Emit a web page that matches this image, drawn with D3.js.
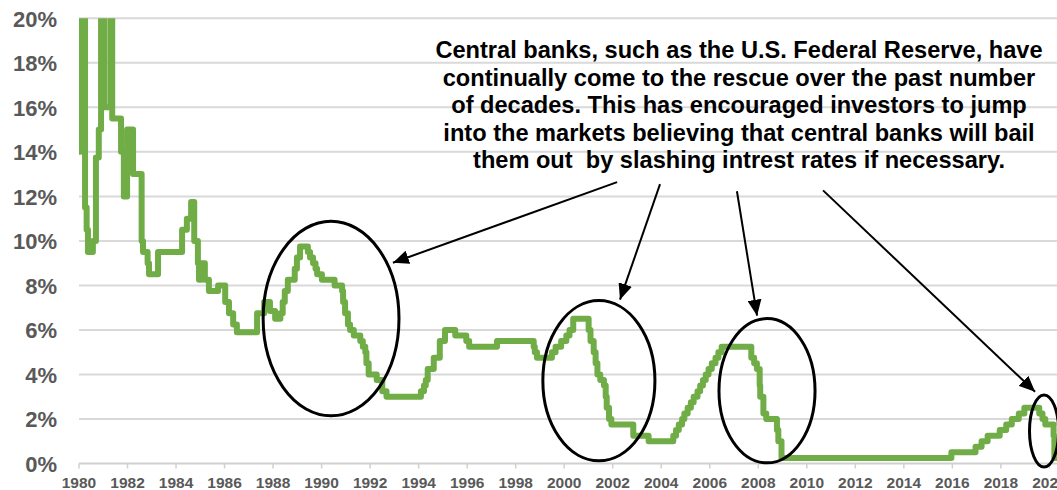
<!DOCTYPE html>
<html>
<head>
<meta charset="utf-8">
<script src="https://cdn.jsdelivr.net/npm/d3@7"></script>
<style>
  body{margin:0;background:#fff}
  svg{display:block;font-family:"Liberation Sans",Arial,sans-serif}
</style>
</head>
<body>
<div id="chart"></div>
<script>

// rate changes: [date, rate %]
const rateChanges=[
  ["1980-01-01",14],["1980-01-20",15],["1980-02-08",20.5],["1980-04-01",11.5],
  ["1980-04-25",10.5],["1980-05-15",9.5],["1980-07-28",10],["1980-09-12",13.75],
  ["1980-10-25",15],["1980-11-28",20.5],["1981-01-20",16],["1981-04-25",20.5],
  ["1981-05-15",15.5],["1981-09-25",14],["1981-11-06",12],["1981-12-25",15],
  ["1982-03-25",13],["1982-08-01",10],["1982-08-22",9.5],["1982-10-30",9],
  ["1982-11-20",8.5],["1983-04-05",9.5],["1984-04-01",10.5],["1984-06-12",11],
  ["1984-08-15",11.75],["1984-10-01",10],["1984-11-25",9],["1984-12-12",8.25],
  ["1985-01-10",9],["1985-03-10",8.25],["1985-05-10",7.75],["1985-09-25",8],
  ["1986-01-10",7.25],["1986-03-08",6.75],["1986-05-10",6.25],["1986-07-05",5.9],
  ["1987-05-05",6.75],["1987-08-20",7.25],["1987-11-15",6.85],["1988-02-01",6.5],
  ["1988-04-20",6.75],["1988-05-25",7.25],["1988-06-25",7.75],["1988-08-10",8.25],
  ["1988-11-22",8.75],["1988-12-25",9.25],["1989-02-10",9.75],["1989-06-08",9.5],
  ["1989-07-10",9.25],["1989-08-25",9],["1989-10-01",8.75],["1989-10-25",8.5],
  ["1990-01-05",8.25],["1990-07-15",8],["1990-11-05",7.75],["1990-11-20",7.25],
  ["1990-12-20",6.75],["1991-02-01",6.25],["1991-03-05",6],["1991-04-30",5.75],
  ["1991-08-06",5.5],["1991-09-13",5.25],["1991-10-20",5],["1991-11-06",4.5],
  ["1991-12-10",4],["1992-04-09",3.75],["1992-07-02",3.25],["1992-09-04",3],
  ["1994-02-04",3.25],["1994-03-22",3.5],["1994-04-18",3.75],["1994-05-17",4.25],
  ["1994-08-16",4.75],["1994-11-15",5.5],["1995-02-01",6],["1995-07-06",5.75],
  ["1995-12-19",5.5],["1996-01-31",5.25],["1997-03-25",5.5],["1998-09-29",5.25],
  ["1998-10-15",5],["1998-11-17",4.75],["1999-06-30",5],["1999-08-24",5.25],
  ["1999-11-16",5.5],["2000-02-02",5.75],["2000-03-21",6],["2000-05-16",6.5],
  ["2001-01-03",6],["2001-01-31",5.5],["2001-03-20",5],["2001-04-18",4.5],
  ["2001-05-15",4],["2001-06-27",3.75],["2001-08-21",3.5],["2001-09-17",3],
  ["2001-10-02",2.5],["2001-11-06",2],["2001-12-11",1.75],["2002-11-06",1.25],
  ["2003-06-25",1],["2004-06-30",1.25],["2004-08-10",1.5],["2004-09-21",1.75],
  ["2004-11-10",2],["2004-12-14",2.25],["2005-02-02",2.5],["2005-03-22",2.75],
  ["2005-05-03",3],["2005-06-30",3.25],["2005-08-09",3.5],["2005-09-20",3.75],
  ["2005-11-01",4],["2005-12-13",4.25],["2006-01-31",4.5],["2006-03-28",4.75],
  ["2006-05-10",5],["2006-06-29",5.25],["2007-09-18",4.75],["2007-10-31",4.5],
  ["2007-12-11",4.25],["2008-01-22",3.5],["2008-01-30",3],["2008-03-18",2.25],
  ["2008-04-30",2],["2008-10-08",1.5],["2008-10-29",1],["2008-12-16",0.25],
  ["2015-12-17",0.5],["2016-12-15",0.75],["2017-03-16",1],["2017-06-15",1.25],
  ["2017-12-14",1.5],["2018-03-22",1.75],["2018-06-14",2],["2018-09-27",2.25],
  ["2018-12-20",2.5],["2019-08-01",2.25],["2019-09-19",2],["2019-10-31",1.75],
  ["2020-03-04",1.25],["2020-03-16",0.25],["2020-04-30",0.25]
]

const yTicks=[0,2,4,6,8,10,12,14,16,18,20]
const xTickYears=d3.range(1980,2021,2)

const noteLines=[
  "Central banks, such as the U.S. Federal Reserve, have",
  "continually come to the rescue over the past number",
  "of decades. This has encouraged investors to jump",
  "into the markets believing that central banks will bail",
  "them out  by slashing intrest rates if necessary."
]

// ellipses in data units: [centre year, centre %, radius years, radius %]
const ellipses=[
  [1990.39,6.51,2.80,4.37],
  [2001.43,3.72,2.31,3.60],
  [2008.36,3.27,1.98,3.24],
  [2019.78,1.46,0.60,1.62]
]

// arrows: [from year, from %, to year, to %]
const arrows=[
  [2002.18,12.64,1992.94,9.02],
  [2003.95,12.55,2002.30,7.36],
  [2007.12,12.23,2007.95,6.64],
  [2010.67,12.27,2019.41,3.22]
]

const W=1057,H=490
const margin={top:18.3,left:79,bottom:26.5}
const parse=d3.timeParse('%Y-%m-%d')
const data=rateChanges.map(d=>({date:parse(d[0]),rate:d[1]}))

const x=d3.scaleTime()
  .domain([new Date(1980,0,1),new Date(2020,0,1)])
  .range([margin.left,1049.4])
const xYear=d3.scaleLinear().domain([1980,2020]).range(x.range())
const y=d3.scaleLinear().domain([0,20]).range([H-margin.bottom,margin.top])

const svg=d3.select('#chart').append('svg')
  .attr('width',W).attr('height',H)

// grid
svg.append('g').selectAll('line')
  .data(yTicks.filter(d=>d>0))
  .join('line')
  .attr('x1',margin.left).attr('x2',W)
  .attr('y1',d=>y(d)).attr('y2',d=>y(d))
  .attr('stroke','#d9d9d9').attr('stroke-width',2)

// x axis
const xAxis=svg.append('g')
xAxis.append('line')
  .attr('x1',margin.left).attr('x2',W)
  .attr('y1',y(0)).attr('y2',y(0))
  .attr('stroke','#d0d0d0').attr('stroke-width',2)
xAxis.selectAll('line.tick')
  .data(xTickYears)
  .join('line').attr('class','tick')
  .attr('x1',d=>xYear(d)).attr('x2',d=>xYear(d))
  .attr('y1',y(0)).attr('y2',y(0)+5)
  .attr('stroke','#d0d0d0').attr('stroke-width',1.5)
xAxis.selectAll('text')
  .data(xTickYears)
  .join('text')
  .attr('x',d=>xYear(d)).attr('y',488)
  .attr('text-anchor','middle')
  .attr('font-size','15.5px').attr('font-weight','bold')
  .attr('fill','#595959')
  .text(d=>d)

// y labels
svg.append('g').selectAll('text')
  .data(yTicks)
  .join('text')
  .attr('x',57).attr('y',d=>y(d)+8.5)
  .attr('text-anchor','end')
  .attr('font-size','22px').attr('font-weight','bold')
  .attr('fill','#595959')
  .text(d=>d+'%')

svg.append('clipPath').attr('id','plot')
  .append('rect')
  .attr('x',margin.left).attr('y',y(20))
  .attr('width',W-margin.left).attr('height',H-y(20))

const line=d3.line()
  .x(d=>x(d.date))
  .y(d=>y(d.rate))
  .curve(d3.curveStepAfter)

svg.append('path')
  .datum(data)
  .attr('clip-path','url(#plot)')
  .attr('fill','none')
  .attr('stroke','#70ad47')
  .attr('stroke-width',6)
  .attr('stroke-linejoin','round')
  .attr('d',line)

// annotations
svg.append('defs').append('marker')
  .attr('id','head')
  .attr('markerUnits','userSpaceOnUse')
  .attr('markerWidth',17).attr('markerHeight',14)
  .attr('refX',16).attr('refY',7)
  .attr('orient','auto')
  .append('path')
  .attr('d','M0,0L16,7L0,14Z')
  .attr('fill','#000')

svg.append('g').selectAll('ellipse')
  .data(ellipses)
  .join('ellipse')
  .attr('cx',d=>xYear(d[0]))
  .attr('cy',d=>y(d[1]))
  .attr('rx',d=>xYear(d[0]+d[2])-xYear(d[0]))
  .attr('ry',d=>y(0)-y(d[3]))
  .attr('fill','none')
  .attr('stroke','#000')
  .attr('stroke-width',3)

svg.append('g').selectAll('line')
  .data(arrows)
  .join('line')
  .attr('x1',d=>xYear(d[0])).attr('y1',d=>y(d[1]))
  .attr('x2',d=>xYear(d[2])).attr('y2',d=>y(d[3]))
  .attr('stroke','#000').attr('stroke-width',2)
  .attr('marker-end','url(#head)')

svg.append('g').selectAll('text')
  .data(noteLines)
  .join('text')
  .attr('x',739)
  .attr('y',(d,i)=>58+i*27.5)
  .attr('text-anchor','middle')
  .attr('font-size','23.6px').attr('font-weight','bold')
  .attr('fill','#000')
  .style('white-space','pre')
  .text(d=>d)

</script>
</body>
</html>
